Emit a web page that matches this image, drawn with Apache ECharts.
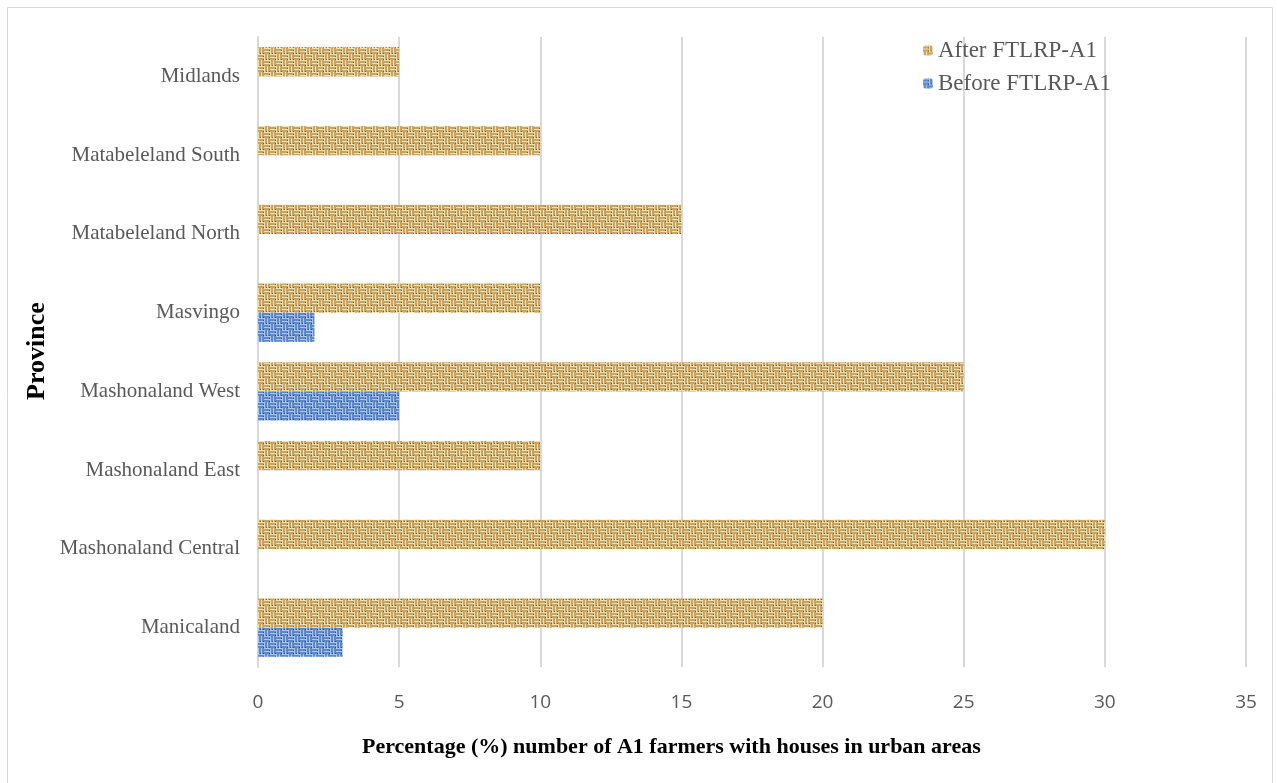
<!DOCTYPE html>
<html><head><meta charset="utf-8">
<script src="https://cdn.jsdelivr.net/npm/echarts@6/dist/echarts.min.js"></script>
<style>html,body{margin:0;padding:0;background:#fff}#c{width:1277px;height:783px}</style>
</head><body><div id="c"></div>
<script>
const categories = ['Manicaland','Mashonaland Central','Mashonaland East','Mashonaland West','Masvingo','Matabeleland North','Matabeleland South','Midlands'];
const beforeValues = [3, 0, 0, 5, 2, 0, 0, 0];
const afterValues = [20, 30, 10, 25, 10, 15, 10, 5];
const xTicks = [0, 5, 10, 15, 20, 25, 30, 35];

function weave(light, mid, dark) {
  const c = document.createElement('canvas');
  const S = 12;
  c.width = S; c.height = S;
  const ctx = c.getContext('2d');
  for (let y = 0; y < S; y++) {
    for (let x = 0; x < S; x++) {
      const block = (Math.floor(x / 6) + Math.floor(y / 6)) % 2;
      let col;
      if (block === 0) {
        const r = y % 3;
        col = r === 0 ? light : (r === 1 ? mid : ((x % 6 === 5) ? dark : mid));
      } else {
        const r = x % 3;
        col = r === 0 ? light : (r === 1 ? mid : ((y % 6 === 5) ? dark : mid));
      }
      ctx.fillStyle = col;
      ctx.fillRect(x, y, 1, 1);
    }
  }
  return c;
}
const tanPat = {image: weave('#f2dfae', '#c6a466', '#7d5d2c'), repeat: 'repeat'};
const bluePat = {image: weave('#a9c5f0', '#5f88c8', '#2d4f8e'), repeat: 'repeat'};

const chart = echarts.init(document.getElementById('c'));
chart.setOption({
  animation: false,
  backgroundColor: '#fff',
  grid: {left: 258, right: 31, top: 37, bottom: 116, containLabel: false},
  legend: {
    orient: 'vertical', left: 918, top: 34, itemWidth: 10, itemHeight: 10, itemGap: 10,
    data: ['After FTLRP-A1', 'Before FTLRP-A1'],
    textStyle: {fontFamily: 'Liberation Serif', fontSize: 23, color: '#595959'}
  },
  xAxis: {
    type: 'value', min: 0, max: 35, interval: 5,
    axisLine: {show: false}, axisTick: {show: false},
    splitLine: {lineStyle: {color: '#d9d9d9', width: 2}},
    axisLabel: {margin: 26, fontFamily: 'Open Sans', fontSize: 19, color: '#595959',
      formatter: v => xTicks.includes(v) ? String(v) : ''}
  },
  yAxis: {
    type: 'category', data: categories,
    axisLine: {show: true, lineStyle: {color: '#d9d9d9', width: 2}},
    axisTick: {show: false},
    axisLabel: {margin: 18, fontFamily: 'Liberation Serif', fontSize: 21, color: '#595959'}
  },
  series: [
    {name: 'After FTLRP-A1', type: 'bar', data: afterValues, barGap: '0%', barCategoryGap: '26%',
      itemStyle: {color: tanPat}},
    {name: 'Before FTLRP-A1', type: 'bar', data: beforeValues, barGap: '0%', barCategoryGap: '26%',
      itemStyle: {color: bluePat}}
  ],
  graphic: [
    {type: 'rect', shape: {x: 7.5, y: 7.5, width: 1265, height: 780}, style: {fill: 'none', stroke: '#d9d9d9', lineWidth: 1}, silent: true},
    {type: 'text', left: 362, top: 736, style: {text: 'Percentage (%) number of A1 farmers with houses in urban areas', font: 'bold 22px "Liberation Serif"', fill: '#000'}},
    {type: 'text', x: 24, y: 400, rotation: Math.PI / 2, style: {text: 'Province', font: 'bold 26px "Liberation Serif"', fill: '#000'}}
  ]
});
</script></body></html>
